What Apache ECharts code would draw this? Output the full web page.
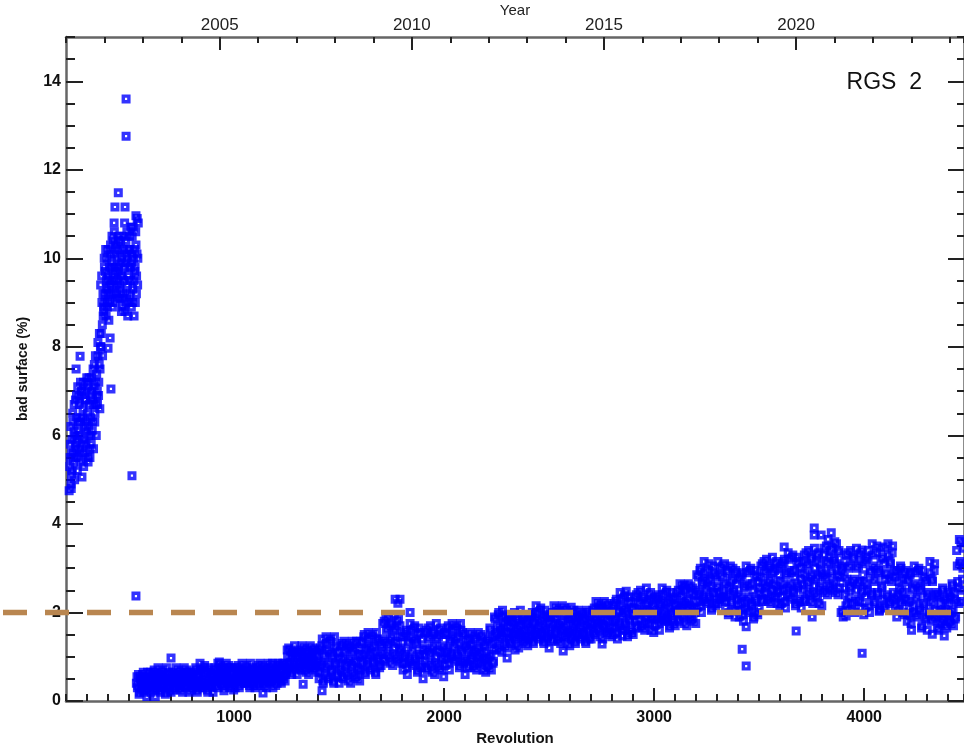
<!DOCTYPE html>
<html><head><meta charset="utf-8">
<script src="https://cdn.jsdelivr.net/npm/echarts@6/dist/echarts.min.js"></script>
<style>html,body{margin:0;padding:0;background:#fff}#c{width:964px;height:749px}</style>
</head><body><div id="c"></div>
<script>
// Early (high) population, two interleaved samplings of revolutions
const earlyStart = 218, earlyStep = 3;
const badEarly = [
5.3,5.8,4.9,5.6,
5.2,6.3,5.6,6.7,6.0, 6.8,5.7,6.4,5.2,6.1, 5.5,6.7,6.0,7.2,6.4, 7.0,5.8,6.6,5.3,6.2,
5.6,6.8,6.1,7.3,6.5, 7.1,6.0,6.7,5.5,6.4, 5.8,7.0,6.3,7.5,6.7, 7.6,6.5,7.2,6.0,6.9,
6.7,7.8,7.2,8.3,7.5, 9.4,8.3,9.0,7.8,8.7, 8.8,9.8,9.2,10.2,9.5, 10.0,9.0,9.6,8.6,9.4,
9.0,10.1,9.4,10.5,9.8, 10.4,9.5,10.1,9.0,9.8, 9.2,10.0,9.5,10.4,9.8, 10.2,9.3,9.9,8.8,9.6,
8.9,10.2,9.5,10.8,9.9, 10.4,9.2,10.0,8.7,9.6, 9.0,10.2,9.5,10.7,9.9, 10.5,9.3,10.0,8.7,9.7,
9.0,10.3,9.6,10.9,10.0
];
const early2Start = 220, early2Step = 3;
const badEarly2 = [
5.5,6.2,5.1,5.9,
6.5,5.4,6.1,5.0,5.8, 5.5,6.9,5.9,7.1,6.3, 6.9,5.7,6.3,5.4,7.0, 5.6,6.4,7.2,5.9,6.8,
7.0,5.8,6.3,7.2,5.5, 6.2,7.3,5.7,6.9,6.0, 7.3,6.1,6.8,5.7,7.1, 6.3,7.8,6.7,7.4,7.0,
8.1,6.9,7.6,6.6,8.0, 8.0,9.6,8.5,9.2,8.9, 10.0,9.0,9.7,8.7,9.3, 8.9,10.2,9.2,9.8,9.5,
10.3,9.2,9.9,8.9,9.6, 9.2,10.6,9.7,10.3,9.4, 10.2,9.1,9.7,10.5,9.4, 9.1,10.4,9.6,10.0,9.2,
10.5,9.1,9.8,8.8,10.1, 9.0,10.6,9.4,10.2,9.8, 10.5,9.2,9.8,8.9,10.1, 9.0,10.7,9.5,10.2,9.8,
10.6,9.2,10.1,9.4,10.8
];
// Main (low) population, two interleaved samplings of revolutions
const mainStart = 535, mainStep = 5;
const badMain = [
.4,.3,.6,.2,.5,.3,.6,.2,.4,.5,.1,.3,.5,
.4,.2,.6,.3,.7,.1,.5,.3,.6,.4,.2,.5,.7,.3,.5,.2,.6,.4,.3,.6,
.2,.5,.4,.6,.3,.6,.4,.7,.3,.5,.6,.2,.4,.5,.3,.7,.5,.2,.6,.4,
.5,.3,.6,.4,.7,.2,.6,.3,.7,.4,.3,.6,.8,.4,.5,.2,.7,.4,.3,.6,
.2,.6,.4,.7,.3,.7,.5,.8,.4,.6,.7,.3,.5,.6,.4,.8,.5,.3,.7,.4,
.5,.3,.7,.5,.8,.3,.6,.4,.7,.5,.4,.6,.8,.4,.6,.3,.7,.5,.4,.7,
.3,.6,.5,.8,.4,.7,.5,.8,.4,.6,.7,.3,.5,.6,.4,.8,.5,.3,.7,.5,
.6,.4,.8,.5,.8,.4,.7,.5,.8,.6,.7,1.0,1.2,.8,1.0,.6,1.1,.8,.7,1.1,
.6,1.0,.8,1.1,.7,1.0,.9,1.2,.7,.9,1.1,.6,.8,1.0,.8,1.2,.9,.7,1.1,.8,
.9,.5,1.2,.8,1.4,.4,1.0,.6,1.3,.8,.5,1.1,1.4,.7,1.0,.4,1.2,.8,.6,1.1,
.4,1.0,.7,1.3,.5,1.1,.8,1.3,.6,.9,1.2,.4,.8,1.1,.6,1.3,.9,.5,1.2,.7,
1.0,.7,1.3,.9,1.5,.6,1.2,.8,1.4,1.0,.7,1.2,1.5,.9,1.1,.6,1.4,1.0,.8,1.3,
.8,1.4,1.1,1.8,.9,1.6,1.3,1.9,1.0,1.4,1.7,.8,1.2,1.6,1.0,1.8,1.3,.9,1.7,1.2,
1.1,.7,1.5,1.0,1.6,.6,1.3,.9,1.6,1.1,.8,1.4,1.7,.9,1.3,.7,1.5,1.0,.8,1.4,
.5,1.2,.9,1.6,.7,1.4,1.1,1.7,.8,1.2,1.5,.6,1.0,1.4,.8,1.6,1.1,.7,1.5,1.0,
1.2,.8,1.5,1.1,1.7,.7,1.4,1.0,1.6,1.2,.9,1.4,1.7,1.0,1.3,.8,1.6,1.1,.9,1.5,
.6,1.2,.9,1.4,.8,1.3,1.0,1.5,.8,1.1,1.4,.7,1.0,1.2,.9,1.5,1.1,.7,1.3,.9,
1.1,.8,1.4,1.0,1.6,.7,1.3,.9,1.9,1.5,1.2,1.7,2.0,1.4,1.6,1.1,1.9,1.5,1.3,1.8,
1.2,1.7,1.4,1.9,1.3,1.8,1.5,2.0,1.4,1.6,1.8,1.2,1.5,1.7,1.4,1.9,1.6,1.3,1.8,1.5,
1.7,1.4,1.9,1.6,2.0,1.3,1.8,1.5,2.0,1.6,1.4,1.8,2.1,1.5,1.7,1.3,1.9,1.6,1.4,1.9,
1.2,1.8,1.5,2.0,1.4,1.9,1.6,2.1,1.4,1.7,2.0,1.3,1.6,1.8,1.5,2.1,1.7,1.3,1.9,1.5,
1.6,1.4,1.9,1.7,2.0,1.3,1.8,1.5,1.9,1.6,1.4,1.8,2.0,1.5,1.7,1.3,2.0,1.6,1.4,1.8,
1.4,1.9,1.6,2.1,1.5,2.0,1.8,2.2,1.6,1.8,2.1,1.4,1.7,2.0,1.6,2.2,1.8,1.5,2.0,1.7,
1.9,1.5,2.2,1.8,2.3,1.4,2.0,1.7,2.3,1.9,1.6,2.1,2.4,1.7,2.0,1.5,2.2,1.8,1.6,2.1,
1.5,2.1,1.8,2.4,1.7,2.2,2.0,2.5,1.7,2.0,2.3,1.6,1.9,2.2,1.8,2.4,2.0,1.6,2.3,1.9,
2.1,1.7,2.3,1.9,2.4,1.6,2.2,1.8,2.4,2.0,1.8,2.2,2.5,1.9,2.1,1.7,2.3,2.0,1.8,2.3,
1.7,2.2,2.0,2.5,1.8,2.4,2.1,2.6,1.9,2.2,2.5,1.7,2.1,2.3,1.9,2.6,2.1,1.8,2.4,2.0,
2.5,2.1,2.8,2.4,3.0,2.0,2.7,2.3,2.9,2.5,2.2,2.7,3.1,2.3,2.6,2.1,2.9,2.4,2.2,2.8,
2.2,2.6,2.3,3.0,2.3,2.8,2.4,3.1,2.1,2.6,2.9,2.0,2.4,2.7,2.2,3.0,2.5,1.9,2.9,2.3,
2.4,1.9,2.8,2.2,2.9,1.8,2.6,2.1,2.9,2.3,2.0,2.6,3.0,2.2,2.5,1.9,2.8,2.3,2.0,2.7,
2.1,2.8,2.4,3.1,2.3,2.9,2.6,3.2,2.3,2.7,3.0,2.2,2.5,2.9,2.4,3.1,2.6,2.2,3.0,2.5,
2.7,2.2,3.1,2.5,3.2,2.1,2.9,2.4,3.2,2.6,2.3,2.9,3.3,2.5,2.8,2.2,3.1,2.6,2.3,3.0,
2.1,2.9,2.5,3.3,2.3,3.1,2.7,3.4,2.4,2.8,3.2,2.2,2.6,3.0,2.4,3.3,2.8,2.2,3.1,2.6,
2.9,2.5,3.3,2.8,3.5,2.4,3.1,2.6,3.4,2.9,2.5,3.2,3.6,2.7,3.1,2.4,3.4,2.8,2.0,3.0,
1.9,2.8,2.4,3.3,2.2,3.0,2.6,3.4,2.2,2.7,3.2,2.0,2.5,3.0,2.3,3.3,2.7,2.1,3.1,2.5,
2.7,2.1,3.2,2.5,3.4,2.0,2.9,2.4,3.3,2.7,2.2,3.0,3.5,2.4,2.9,2.1,3.2,2.6,2.3,3.1,
2.1,2.9,2.4,3.3,2.2,3.1,2.7,3.5,2.3,2.8,2.9,1.9,2.4,2.7,2.2,3.0,2.5,2.0,2.9,2.3,
2.3,1.8,2.7,2.1,2.9,1.6,2.5,2.0,2.9,2.3,1.9,2.6,3.0,2.1,2.5,1.7,2.8,2.2,1.9,2.7,
1.6,2.4,2.0,2.9,1.8,2.7,2.2,3.1,1.9,2.4,2.4,1.6,2.0,2.2,1.8,2.5,2.0,1.7,2.3,1.9,
2.2,1.8,2.4,2.0,2.6,1.7,2.3,1.9,3.4,2.7,2.2,3.1,3.6,2.5,3.0
];
const main2Start = 538, main2Step = 5;
const badMain2 = [
.55,.35,.15,.55,.45,.25,.65,.35,.55,.25,.65,.35,.45,
.65,.35,.45,.65,.25,.55,.35,.75,.55,.25,.45,.65,.35,.55,.15,.75,.35,.65,.25,.45,
.45,.65,.25,.55,.75,.35,.55,.45,.25,.65,.55,.35,.75,.45,.65,.35,.65,.45,.55,.25,
.65,.35,.45,.75,.25,.55,.45,.85,.65,.35,.45,.75,.35,.65,.25,.75,.45,.65,.35,.55,
.45,.75,.35,.55,.85,.45,.65,.55,.35,.75,.65,.45,.85,.55,.75,.35,.75,.45,.65,.25,
.75,.45,.55,.75,.35,.65,.45,.85,.65,.45,.55,.75,.45,.65,.35,.85,.55,.75,.35,.55,
.55,.75,.35,.55,.85,.45,.65,.55,.35,.75,.65,.45,.85,.55,.75,.45,.85,.55,.65,.35,
.65,.85,.55,.75,.45,.85,.55,.85,.45,.65,1.15,.75,.85,1.15,.65,1.05,.85,1.25,1.05,.75,
.85,1.15,.75,.95,1.25,.85,1.05,.85,.65,1.15,.95,.75,1.25,.95,1.05,.75,1.15,.85,1.05,.65,
1.15,.65,.85,1.25,.45,1.05,.75,1.45,1.15,.55,.85,1.35,.65,1.05,.45,1.45,.85,1.25,.55,.95,
.75,1.25,.55,.95,1.35,.65,1.15,.85,.45,1.25,.95,.65,1.35,.85,1.15,.55,1.35,.75,1.05,.45,
1.35,.85,1.05,1.45,.65,1.15,.95,1.55,1.25,.75,1.05,1.45,.85,1.25,.65,1.55,.95,1.35,.75,1.05,
1.25,1.75,.95,1.35,1.85,1.05,1.65,1.25,.85,1.75,1.45,1.05,1.95,1.35,1.65,.95,1.85,1.15,1.45,.85,
1.45,.85,1.05,1.55,.75,1.35,.95,1.75,1.45,.85,1.15,1.65,.95,1.35,.65,1.65,1.05,1.55,.75,1.15,
1.05,1.55,.75,1.15,1.65,.85,1.45,1.05,.65,1.55,1.25,.85,1.75,1.15,1.45,.75,1.65,.95,1.25,.55,
1.55,.95,1.15,1.65,.85,1.35,1.05,1.75,1.45,.95,1.25,1.65,1.05,1.45,.75,1.75,1.15,1.55,.85,1.25,
.95,1.35,.75,1.15,1.55,.95,1.25,1.05,.75,1.45,1.15,.85,1.55,1.05,1.35,.85,1.45,.95,1.25,.65,
.95,1.35,.75,1.65,1.05,1.45,.85,1.15,1.85,1.35,1.55,1.95,1.15,1.65,1.45,2.05,1.75,1.25,1.55,1.95,
1.55,1.85,1.35,1.65,1.95,1.45,1.75,1.55,1.25,1.85,1.65,1.45,2.05,1.55,1.85,1.35,1.95,1.45,1.75,1.25,
1.95,1.45,1.65,1.95,1.35,1.75,1.55,2.15,1.85,1.45,1.65,2.05,1.55,1.85,1.35,2.05,1.65,1.95,1.45,1.75,
1.55,1.95,1.35,1.75,2.15,1.55,1.85,1.65,1.35,2.05,1.75,1.45,2.15,1.65,1.95,1.45,2.05,1.55,1.85,1.25,
1.85,1.45,1.65,2.05,1.35,1.75,1.55,2.05,1.85,1.45,1.65,1.95,1.55,1.85,1.35,2.05,1.75,1.95,1.45,1.65,
1.75,2.05,1.55,1.85,2.25,1.65,2.05,1.75,1.45,2.15,1.85,1.65,2.25,1.85,2.05,1.55,2.15,1.65,1.95,1.45,
2.15,1.65,1.85,2.25,1.55,2.05,1.75,2.45,2.15,1.65,1.95,2.35,1.75,2.05,1.45,2.35,1.85,2.25,1.55,1.95,
1.95,2.35,1.65,2.05,2.45,1.85,2.25,1.95,1.65,2.35,2.05,1.75,2.55,2.05,2.25,1.75,2.45,1.85,2.15,1.55,
2.35,1.85,2.05,2.35,1.75,2.15,1.95,2.55,2.25,1.85,2.05,2.45,1.85,2.25,1.65,2.45,1.95,2.35,1.75,2.15,
2.05,2.45,1.85,2.15,2.65,1.95,2.35,2.15,1.75,2.55,2.25,1.95,2.65,2.15,2.45,1.85,2.55,2.05,2.25,1.75,
2.85,2.25,2.45,2.95,2.15,2.65,2.35,3.15,2.75,2.25,2.55,2.95,2.35,2.75,2.05,3.05,2.45,2.85,2.15,2.55,
3.15,2.45,2.85,2.35,3.05,2.35,2.65,2.25,2.35,2.95,1.95,2.55,3.05,2.25,2.75,2.45,2.05,2.95,2.65,2.15,
2.75,2.05,2.35,2.85,1.95,2.55,2.25,3.05,2.65,2.05,2.35,2.95,2.15,2.65,1.85,2.95,2.25,2.85,1.95,2.45,
2.55,3.05,2.25,2.65,3.15,2.45,2.95,2.55,2.25,3.05,2.75,2.35,3.25,2.65,2.95,2.35,3.15,2.45,2.85,2.15,
3.05,2.35,2.65,3.15,2.25,2.85,2.55,3.35,2.95,2.35,2.65,3.25,2.45,2.95,2.15,3.25,2.55,3.15,2.25,2.75,
2.65,3.15,2.25,2.85,3.35,2.45,3.05,2.65,2.25,3.25,2.85,2.45,3.45,2.75,3.15,2.35,3.35,2.55,2.95,2.15,
2.85,3.45,2.45,3.15,2.75,3.65,3.25,2.55,2.95,3.45,2.65,3.15,2.45,3.55,2.85,3.35,2.55,2.95,3.05,2.05,
2.55,3.15,2.15,2.75,3.35,2.35,3.05,2.55,2.05,3.25,2.75,2.25,3.45,2.65,3.05,2.25,3.35,2.45,2.85,1.95,
3.15,2.35,2.65,3.25,2.15,2.95,2.45,3.55,3.05,2.25,2.75,3.35,2.45,2.95,2.05,3.45,2.55,3.25,2.15,2.75,
2.85,2.35,3.55,2.75,3.15,2.25,3.35,2.45,2.95,2.15,2.35,2.95,2.05,2.55,3.05,2.25,2.75,2.45,1.95,2.95,
2.75,1.95,2.25,2.85,1.75,2.55,2.15,3.05,2.65,1.95,2.35,2.95,2.05,2.55,1.65,2.95,2.15,2.75,1.85,2.35,
2.45,1.95,3.15,2.25,2.75,1.85,2.95,2.05,2.45,1.65,1.95,2.35,1.75,2.05,2.55,1.85,2.25,2.05,1.65,2.45,
1.95,2.35,1.75,2.65,2.05,2.45,1.85,2.25,3.05,2.55,3.65,3.15,2.25,2.75,3.45
];
// Isolated points
const outRev = [215,225,248,267,276,305,400,410,414,429,433,449,481,486,486,514,533,533,
  700,930,952,1138,1329,1419,1767,1790,1780,1838,2300,2338,2567,2605,2752,2847,2867,3143,
  3419,3438,3438,3619,3676,3752,3762,3762,3795,3843,3914,3990,3990,4071,4095,4324,4381];
const outVal = [4.75,4.8,7.5,7.79,5.06,5.4,7.97,8.2,7.05,10.8,11.16,11.48,11.16,13.6,12.76,5.09,10.96,2.37,
  0.97,0.88,0.23,0.18,0.38,0.23,2.3,2.3,2.21,2.0,0.97,1.15,1.13,2.12,1.29,1.47,2.48,2.62,
  1.17,0.79,1.68,3.48,1.58,1.9,3.91,3.75,3.75,3.8,1.92,1.08,3.41,2.03,3.48,1.51,1.47];
const threshold = 2;
const revTicks = [1000,2000,3000,4000];
const yearTicks = [2005,2010,2015,2020];
const yTicks = [0,2,4,6,8,10,12,14];
const label = 'RGS  2';

const FF = "'Liberation Sans', Arial, sans-serif";
const chart = echarts.init(document.getElementById('c'), null, {renderer:'canvas'});
const sq = 'path://M0,0L9,0L9,9L0,9Z M3.4,3.4L3.4,5.6L5.6,5.6L5.6,3.4Z';
const sym = {symbol:sq, symbolSize:9, itemStyle:{color:'#0000ff'}};
const tickStyle = {color:'#222', width:2};
const lineStyle = {color:'#666', width:2.5};
const plain = v => String(v);
const seq = (arr, start, step) => arr.map((v,i)=>[start+i*step, v]);
const scat = data => Object.assign({type:'scatter',xAxisIndex:0,yAxisIndex:0,z:2,silent:true,data:data}, sym);

chart.setOption({
  animation:false,
  backgroundColor:'#fff',
  title:{text:label, right:42, top:71, padding:0,
    textStyle:{fontSize:23, fontWeight:'normal', color:'#111', fontFamily:FF}},
  grid:[{left:66,right:0,top:37,bottom:48,outerBoundsMode:'none',containLabel:false},
        {left:0,right:0,top:37,bottom:48,outerBoundsMode:'none',containLabel:false}],
  xAxis:[
    {gridIndex:0,type:'value',position:'bottom',min:200,max:4475,
     name:'Revolution',nameLocation:'middle',nameGap:30,nameMoveOverlap:false,
     nameTextStyle:{fontFamily:FF,fontSize:15,fontWeight:'bold',color:'#111'},
     axisLine:{show:true,onZero:false,lineStyle:lineStyle},
     axisTick:{show:true,inside:true,length:13,customValues:revTicks,lineStyle:tickStyle},
     axisLabel:{customValues:revTicks,formatter:plain,margin:9,fontSize:16,fontWeight:'bold',color:'#111',fontFamily:FF},
     splitLine:{show:false}},
    {gridIndex:0,type:'value',position:'bottom',min:200,max:4475,interval:100,
     axisLine:{show:false,onZero:false},axisTick:{show:true,inside:true,length:7,lineStyle:tickStyle},
     axisLabel:{show:false},splitLine:{show:false}},
    {gridIndex:0,type:'value',position:'top',min:2001,max:2024.37,
     name:'Year',nameLocation:'middle',nameGap:19,nameMoveOverlap:false,
     nameTextStyle:{fontFamily:FF,fontSize:15,color:'#222'},
     axisLine:{show:true,onZero:false,lineStyle:lineStyle},
     axisTick:{show:true,inside:true,length:13,customValues:yearTicks,lineStyle:tickStyle},
     axisLabel:{customValues:yearTicks,formatter:plain,margin:3,fontSize:17,color:'#222',fontFamily:FF},
     splitLine:{show:false}},
    {gridIndex:0,type:'value',position:'top',min:2001,max:2024.37,interval:1,
     axisLine:{show:false,onZero:false},axisTick:{show:true,inside:true,length:6,lineStyle:tickStyle},
     axisLabel:{show:false},splitLine:{show:false}},
    {gridIndex:1,type:'value',min:0,max:1,show:false}
  ],
  yAxis:[
    {gridIndex:0,type:'value',position:'left',min:0,max:15,
     name:'bad surface (%)',nameLocation:'middle',nameGap:36,nameRotate:90,nameMoveOverlap:false,
     nameTextStyle:{fontFamily:FF,fontSize:14,fontWeight:'bold',color:'#111'},
     axisLine:{show:true,onZero:false,lineStyle:lineStyle},
     axisTick:{show:true,inside:true,length:17,customValues:yTicks,lineStyle:tickStyle},
     axisLabel:{customValues:yTicks,formatter:plain,margin:5,fontSize:16,fontWeight:'bold',color:'#111',fontFamily:FF},
     splitLine:{show:false}},
    {gridIndex:0,type:'value',position:'left',min:0,max:15,interval:0.5,
     axisLine:{show:false,onZero:false},axisTick:{show:true,inside:true,length:9,lineStyle:tickStyle},
     axisLabel:{show:false},splitLine:{show:false}},
    {gridIndex:0,type:'value',position:'right',min:0,max:15,
     axisLine:{show:true,onZero:false,lineStyle:lineStyle},
     axisTick:{show:true,inside:true,length:16,customValues:yTicks,lineStyle:tickStyle},
     axisLabel:{show:false},splitLine:{show:false}},
    {gridIndex:0,type:'value',position:'right',min:0,max:15,interval:0.5,
     axisLine:{show:false,onZero:false},axisTick:{show:true,inside:true,length:7,lineStyle:tickStyle},
     axisLabel:{show:false},splitLine:{show:false}},
    {gridIndex:1,type:'value',min:0,max:15,show:false}
  ],
  series:[
    scat(seq(badEarly, earlyStart, earlyStep)),
    scat(seq(badEarly2, early2Start, early2Step)),
    scat(seq(badMain, mainStart, mainStep)),
    scat(seq(badMain2, main2Start, main2Step)),
    scat(outRev.map((r,i)=>[r,outVal[i]])),
    {type:'line',xAxisIndex:4,yAxisIndex:4,z:5,silent:true,showSymbol:false,
     data:[[0,threshold],[1,threshold]],
     lineStyle:{color:'#b98650',width:5.5,type:[24,18],dashOffset:39}}
  ]
});
</script></body></html>
